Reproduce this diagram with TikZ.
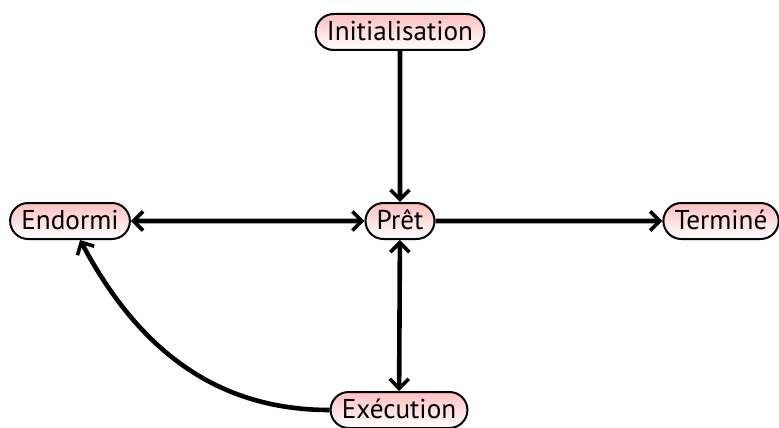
\documentclass[tikz,border=0pt]{standalone}
\usepackage{fontspec}
\setmainfont{PT Sans}
\usetikzlibrary{shapes.misc,arrows.meta}
\begin{document}
\begin{tikzpicture}[x={(0.5pt,0)},y={(0,-0.5pt)},
  state/.style={rounded rectangle,draw,line width=1pt,top color=red!25,bottom color=white,
    font=\fontsize{13.6}{15}\selectfont,minimum height=18pt,inner xsep=4pt,inner ysep=1pt,
    text height=9.5pt,text depth=0.8pt},
  tip/.style={Straight Barb[length=4.8pt,width=9.5pt,line width=1.8pt]},
  conn/.style={line width=2.3pt,-{Straight Barb[length=4.8pt,width=9.5pt,line width=1.8pt]}},
  dconn/.style={line width=2.3pt,{Straight Barb[length=4.8pt,width=9.5pt,line width=1.8pt]}-{Straight Barb[length=4.8pt,width=9.5pt,line width=1.8pt]}}]
\useasboundingbox (0,0) rectangle (779,427);
\node[state] (init) at (400,32) {Initialisation};
\node[state] (endormi) at (70,221) {Endormi};
\node[state] (pret) at (400,221) {Prêt};
\node[state] (termine) at (721,221) {Terminé};
\node[state] (exec) at (399,410) {Exécution};
\draw[conn] (init) -- (pret);
\draw[dconn] (endormi) -- (pret);
\draw[conn] (pret) -- (termine);
\draw[dconn] (pret) -- (exec);
\draw[conn] (exec.west) to[out=180,in=-62] (endormi);
\end{tikzpicture}
\end{document}
